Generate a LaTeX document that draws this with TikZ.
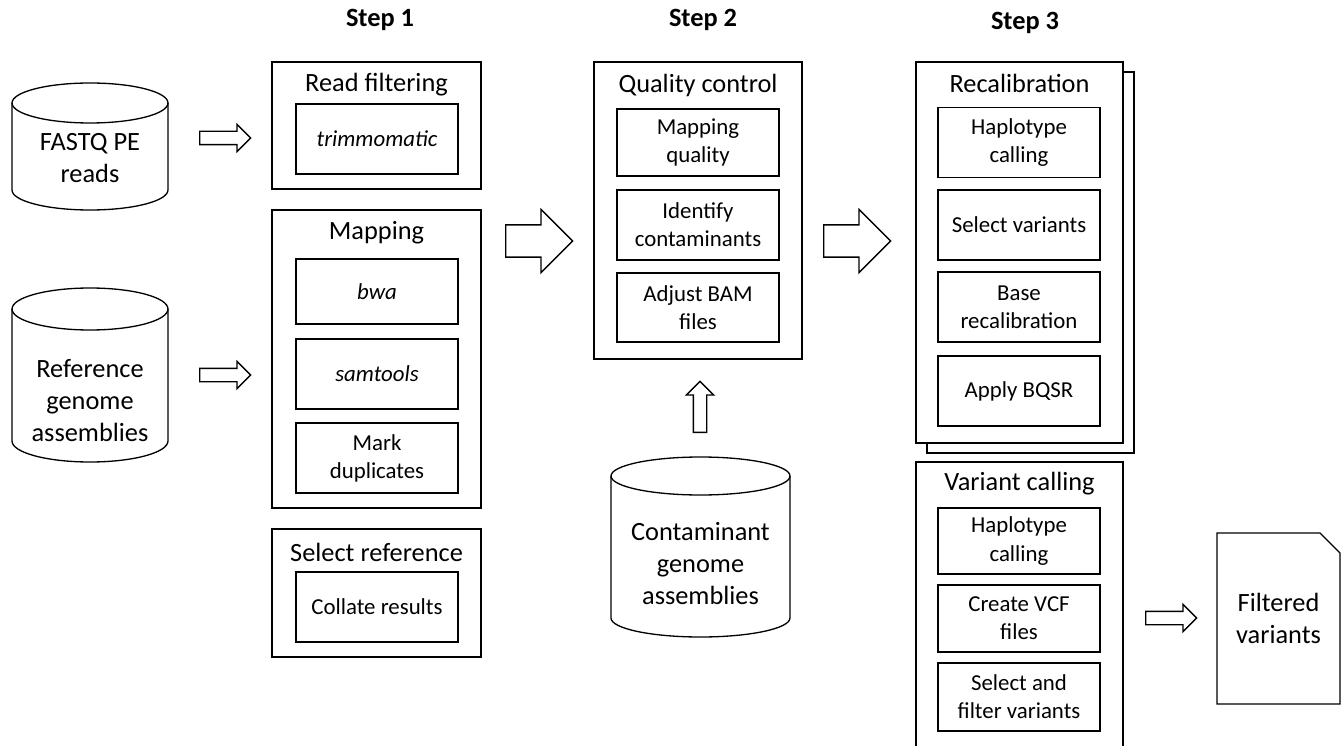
\documentclass[tikz,border=0pt]{standalone}
\usepackage{fontspec}
\setmainfont{Carlito}
\usetikzlibrary{shapes.arrows,shapes.misc,shadows}

\tikzset{
    every node/.append style={font=\fontsize{13}{16}\selectfont, align=center},
    stage/.style={draw, line width=0.75pt, fill=white, minimum width=4.18cm},
    task/.style={draw, line width=0.75pt, minimum width=3.24cm, minimum height=1.4cm},
    heading/.style={font=\fontsize{15}{18}\selectfont},
    steplabel/.style={font=\fontsize{15}{18}\selectfont\bfseries},
    storeline/.style={line width=0.75pt},
    storetext/.style={font=\fontsize{15}{18}\selectfont},
    thinarrow/.style={single arrow, draw, line width=0.75pt, inner sep=0pt, inner ysep=0.12cm, single arrow head extend=0.14cm, minimum height=1.02cm, anchor=tail},
    fatarrow/.style={single arrow, draw, line width=0.75pt, inner sep=0pt, inner ysep=0.31cm, single arrow head extend=0.31cm, minimum height=1.34cm, anchor=tail}
}

\begin{document}
\begin{tikzpicture}[x=0.02cm, y=-0.02cm]
\useasboundingbox (0,0) rectangle (1344,746);

% step headings
\node[steplabel] (step1) at (380,20) {Step 1};
\node[steplabel] (step2) at (703,20) {Step 2};
\node[steplabel] (step3) at (1025,23) {Step 3};

% input data (cylinders)
\draw[storeline] (90,103) ellipse [x radius=1.56cm, y radius=0.4cm];
\draw[storeline] (12,103) -- (12,190) arc[start angle=180, end angle=360, x radius=1.56cm, y radius=0.4cm] -- (168,103);
\node[storetext] (fastq) at (90,158) {FASTQ PE\\reads};

\draw[storeline] (90,309) ellipse [x radius=1.56cm, y radius=0.42cm];
\draw[storeline] (12,309) -- (12,441) arc[start angle=180, end angle=360, x radius=1.56cm, y radius=0.42cm] -- (168,309);
\node[storetext] (refgen) at (90,400.5) {Reference\\genome\\assemblies};

\draw[storeline] (700.5,476) ellipse [x radius=1.79cm, y radius=0.38cm];
\draw[storeline] (611,476) -- (611,618) arc[start angle=180, end angle=360, x radius=1.79cm, y radius=0.38cm] -- (790,476);
\node[storetext] (contam) at (700.5,563.5) {Contaminant\\genome\\assemblies};

% step 1
\node[stage, minimum height=2.54cm] (readfilt) at (376.5,125.5) {};
\node[heading] (readfilttitle) at (376.5,85) {Read filtering};
\node[task] (trimmomatic) at (377,139) {\textit{trimmomatic}};

\node[stage, minimum height=5.96cm] (mapping) at (376.5,359) {};
\node[heading] (mappingtitle) at (376.5,233) {Mapping};
\node[task, minimum height=1.3cm] (bwa) at (377,291.5) {\textit{bwa}};
\node[task] (samtools) at (377,374) {\textit{samtools}};
\node[task] (markdup) at (377,458) {Mark\\duplicates};

\node[stage, minimum height=2.56cm] (selref) at (376.5,593) {};
\node[heading] (selreftitle) at (376.5,552) {Select reference};
\node[task] (collate) at (377,607) {Collate results};

% step 2
\node[stage, minimum width=4.16cm, minimum height=5.94cm] (qc) at (698,210.5) {};
\node[heading] (qctitle) at (698,85) {Quality control};
\node[task, minimum height=1.34cm] (mapqual) at (698,142.5) {Mapping\\quality};
\node[task] (identify) at (698,225) {Identify\\contaminants};
\node[task, minimum height=1.38cm] (adjust) at (698,307.5) {Adjust BAM\\files};

% step 3
\node[stage, minimum width=4.14cm, minimum height=7.62cm,
      copy shadow={shadow xshift=0.22cm, shadow yshift=-0.2cm, draw=black, fill=white, line width=0.75pt}] (recal) at (1019.5,252.5) {};
\node[heading] (recaltitle) at (1019.5,83) {Recalibration};
\node[task] (hapcalla) at (1019,142.5) {Haplotype\\calling};
\node[task] (selvar) at (1019,225) {Select variants};
\node[task] (baserecal) at (1019,307) {Base\\recalibration};
\node[task] (bqsr) at (1019,391) {Apply BQSR};

\node[stage, minimum width=4.14cm, minimum height=5.96cm] (varcall) at (1019.5,611) {};
\node[heading] (varcalltitle) at (1019.5,484) {Variant calling};
\node[task, minimum height=1.32cm] (hapcallb) at (1019,541) {Haplotype\\calling};
\node[task, minimum height=1.34cm] (vcf) at (1019,618.5) {Create VCF\\files};
\node[task, minimum height=1.36cm] (selfilt) at (1019,697) {Select and\\filter variants};

% output
\node[chamfered rectangle, chamfered rectangle corners=north east, chamfered rectangle sep=0.2cm,
      inner sep=0pt, draw, line width=0.75pt, minimum width=2.46cm, minimum height=3.42cm,
      font=\fontsize{15}{18.5}\selectfont] (filtered) at (1278.5,618.5) {Filtered\\variants};

% block arrows
\node[thinarrow] (arrfastq) at (199,138) {};
\node[thinarrow] (arrref) at (199,375) {};
\node[fatarrow] (arrstepa) at (505,241) {};
\node[fatarrow] (arrstepb) at (823,241) {};
\node[thinarrow, rotate=90] (arrcontam) at (700,433) {};
\node[thinarrow] (arrout) at (1145,618) {};
\end{tikzpicture}
\end{document}
